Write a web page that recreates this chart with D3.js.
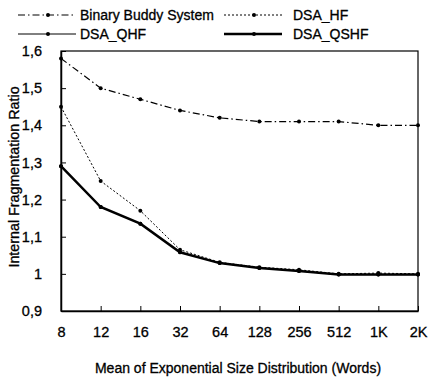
<html>
<head>
<meta charset="utf-8">
<title>Internal Fragmentation Ratio</title>
<style>
  body { margin: 0; background: #fff; }
  text { font-family: "Liberation Sans", Arial, sans-serif; fill: #000; stroke: #000; stroke-width: 0.3px; }
</style>
</head>
<body>
<div id="chart"></div>
<script src="https://cdnjs.cloudflare.com/ajax/libs/d3/7.8.5/d3.min.js"></script>
<script>
// categories along x
const sizes = ["8", "12", "16", "32", "64", "128", "256", "512", "1K", "2K"];
// series values
const buddy = [1.58, 1.50, 1.47, 1.44, 1.42, 1.41, 1.41, 1.41, 1.40, 1.40];
const dsaHF = [1.45, 1.25, 1.17, 1.065, 1.031, 1.018, 1.011, 1.0, 1.002, 1.0];
const dsaQHF = [1.29, 1.18, 1.135, 1.058, 1.029, 1.016, 1.008, 0.998, 0.998, 0.998];
const dsaQSHF = [1.29, 1.18, 1.135, 1.058, 1.029, 1.016, 1.008, 0.998, 0.998, 0.998];
const yTicks = [0.9, 1, 1.1, 1.2, 1.3, 1.4, 1.5, 1.6];
const seriesNames = ["Binary Buddy System", "DSA_HF", "DSA_QHF", "DSA_QSHF"];

const width = 429, height = 379;
const svg = d3.select("#chart").append("svg")
  .attr("width", width).attr("height", height);

const x = d3.scalePoint().domain(sizes).range([61, 418]);
const y = d3.scaleLinear().domain([0.9, 1.6]).range([311, 51]);

// frame
svg.append("rect")
  .attr("x", x.range()[0]).attr("y", y(1.6))
  .attr("width", x.range()[1] - x.range()[0]).attr("height", y(0.9) - y(1.6))
  .attr("fill", "none").attr("stroke", "#000").attr("stroke-width", 1.2);

// y axis, ticks pointing inward
const yAxis = d3.axisLeft(y).tickValues(yTicks).tickSizeInner(-5).tickSizeOuter(0).tickPadding(19)
  .tickFormat(d => d === 1 ? "1" : d3.format(".1f")(d).replace(".", ","));
svg.append("g").attr("transform", `translate(${x.range()[0]},0)`).call(yAxis)
  .call(g => g.select(".domain").attr("stroke-width", 1.5))
  .selectAll("text").attr("font-size", 14.5).attr("font-family", "Liberation Sans, Arial, sans-serif");

// x axis, ticks pointing inward
const xAxis = d3.axisBottom(x).tickSizeInner(-5).tickSizeOuter(0).tickPadding(16);
svg.append("g").attr("transform", `translate(0,${y(0.9)})`).call(xAxis)
  .call(g => g.select(".domain").attr("stroke-width", 1.5))
  .selectAll("text").attr("font-size", 14.5).attr("font-family", "Liberation Sans, Arial, sans-serif");

// axis titles
svg.append("text").attr("x", 238).attr("y", 373).attr("text-anchor", "middle")
  .attr("font-size", 14).text("Mean of Exponential Size Distribution (Words)");
svg.append("text").attr("transform", "translate(19,177) rotate(-90)").attr("text-anchor", "middle")
  .attr("font-size", 14.3).text("Internal Fragmentation Ratio");

const styles = [
  { data: buddy, dash: "7,3,1.5,3", w: 1.2 },
  { data: dsaHF, dash: "2,2", w: 1 },
  { data: dsaQHF, dash: null, w: 1 },
  { data: dsaQSHF, dash: null, w: 2.5 }
];

const line = d3.line().x((d, i) => x(sizes[i])).y(d => y(d));

styles.forEach(s => {
  svg.append("path").datum(s.data)
    .attr("d", line)
    .attr("fill", "none").attr("stroke", "#000")
    .attr("stroke-width", s.w)
    .attr("stroke-dasharray", s.dash);
  svg.append("g").selectAll("circle").data(s.data).join("circle")
    .attr("cx", (d, i) => x(sizes[i])).attr("cy", d => y(d))
    .attr("r", 2).attr("fill", "#000");
});

// legend
const legendPos = [
  { lx: 18, ly: 15, tx: 62 }, { lx: 224, ly: 15, tx: 69 },
  { lx: 18, ly: 34, tx: 62 }, { lx: 224, ly: 34, tx: 69 }
];
seriesNames.forEach((name, i) => {
  const p = legendPos[i], s = styles[i];
  const g = svg.append("g").attr("transform", `translate(${p.lx},${p.ly})`);
  g.append("line").attr("x1", 0).attr("x2", 58).attr("y1", 0).attr("y2", 0)
    .attr("stroke", "#000").attr("stroke-width", s.w).attr("stroke-dasharray", s.dash);
  g.append("circle").attr("cx", 30).attr("cy", 0).attr("r", 2).attr("fill", "#000");
  g.append("text").attr("x", p.tx).attr("y", 5).attr("font-size", 14).text(name);
});
</script>
</body>
</html>
